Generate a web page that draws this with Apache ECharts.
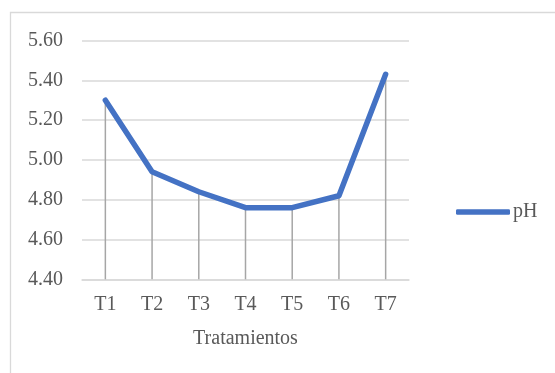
<!DOCTYPE html>
<html>
<head>
<meta charset="utf-8">
<script src="https://cdn.jsdelivr.net/npm/echarts@6/dist/echarts.min.js"></script>
<style>
  html, body { margin: 0; padding: 0; background: #ffffff; }
  #chart { width: 555px; height: 373px; }
</style>
</head>
<body>
<div id="chart"></div>
<script>
// pH per treatment
const categories = ['T1', 'T2', 'T3', 'T4', 'T5', 'T6', 'T7'];
const phValues = [5.30, 4.94, 4.84, 4.76, 4.76, 4.82, 5.43];
const yTicks = { min: 4.40, max: 5.60, step: 0.20 };
const seriesName = 'pH';
const xTitle = 'Tratamientos';

const textColor = '#595959';
const fontFamily = '"Liberation Serif", "Times New Roman", serif';

const chart = echarts.init(document.getElementById('chart'), null, { renderer: 'canvas' });

chart.setOption({
  backgroundColor: '#ffffff',
  animation: false,
  textStyle: { fontFamily: fontFamily, color: textColor },
  graphic: [{
    type: 'rect',
    shape: { x: 10.5, y: 12.5, width: 600, height: 400 },
    style: { fill: 'none', stroke: '#d9d9d9', lineWidth: 1.3 },
    silent: true
  }],
  grid: { left: 82, right: 146, top: 40.5, bottom: 93.7, containLabel: false },
  legend: {
    data: [seriesName],
    orient: 'vertical',
    left: 451,
    top: 197,
    icon: 'roundRect',
    itemWidth: 54,
    itemHeight: 5.5,
    textStyle: { fontFamily: fontFamily, fontSize: 20, color: textColor, padding: [0, 0, 0, -2] }
  },
  xAxis: {
    type: 'category',
    data: categories,
    boundaryGap: true,
    axisLine: { show: true, lineStyle: { color: '#d9d9d9', width: 1.5 } },
    axisTick: { show: false },
    axisLabel: { fontFamily: fontFamily, fontSize: 20, color: textColor, margin: 15 },
    name: xTitle,
    nameLocation: 'middle',
    nameGap: 49,
    nameTextStyle: { fontFamily: fontFamily, fontSize: 20, color: textColor }
  },
  yAxis: {
    type: 'value',
    min: yTicks.min,
    max: yTicks.max,
    interval: yTicks.step,
    axisLine: { show: false },
    axisTick: { show: false },
    axisLabel: {
      fontFamily: fontFamily, fontSize: 20, color: textColor, margin: 19,
      formatter: v => v.toFixed(2)
    },
    splitLine: { lineStyle: { color: '#d9d9d9', width: 1.5 } }
  },
  series: [
    {
      // drop lines from each point to the axis
      name: 'drop',
      type: 'bar',
      data: phValues,
      barWidth: 1.5,
      itemStyle: { color: '#a6a6a6' },
      silent: true,
      z: 1
    },
    {
      name: seriesName,
      type: 'line',
      data: phValues,
      showSymbol: false,
      symbol: 'none',
      lineStyle: { color: '#4472c4', width: 5.5, cap: 'round', join: 'round' },
      itemStyle: { color: '#4472c4' },
      z: 3
    }
  ]
});
</script>
</body>
</html>
